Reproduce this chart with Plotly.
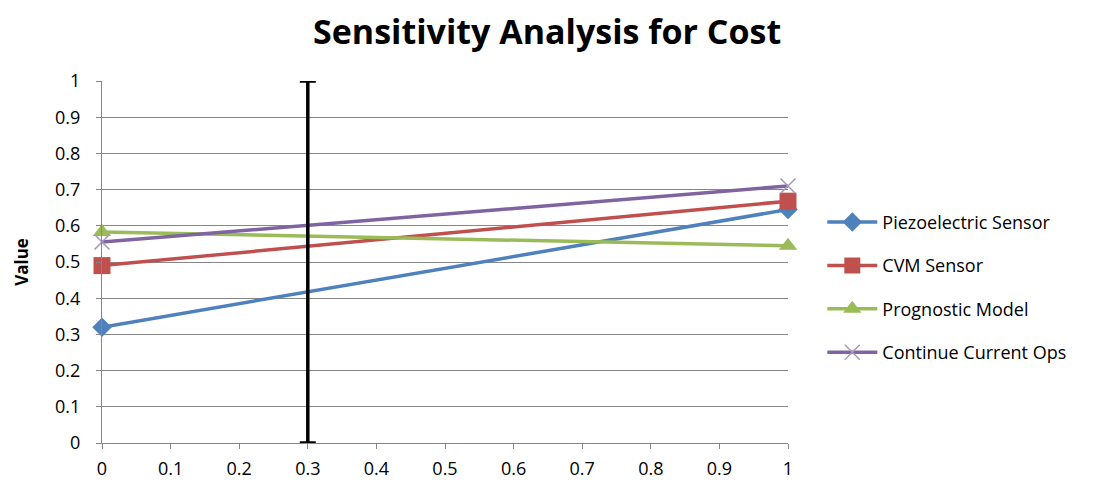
import plotly.graph_objects as go

x_vals = [0, 1]
series_names = ["Piezoelectric Sensor", "CVM Sensor", "Prognostic Model", "Continue Current Ops"]
piezo = [0.32, 0.645]
cvm = [0.49, 0.668]
prognostic = [0.583, 0.545]
continue_ops = [0.555, 0.71]
marker_line_x = 0.3
x_ticks = [0, 0.1, 0.2, 0.3, 0.4, 0.5, 0.6, 0.7, 0.8, 0.9, 1]
y_ticks = [0, 0.1, 0.2, 0.3, 0.4, 0.5, 0.6, 0.7, 0.8, 0.9, 1]
chart_title = "Sensitivity Analysis for Cost"

colors = ["#4F81BD", "#C0504D", "#9BBB59", "#8064A2"]
symbols = ["diamond", "square", "triangle-up", "x-thin"]
sizes = [15, 17, 16, 15]
data = [piezo, cvm, prognostic, continue_ops]

fig = go.Figure()
for i, (name, vals) in enumerate(zip(series_names, data)):
    fig.add_trace(go.Scatter(
        x=x_vals, y=vals, name=name, mode="lines+markers",
        line=dict(color=colors[i], width=3.5),
        marker=dict(symbol=symbols[i], size=sizes[i], color=colors[i],
                    line=dict(color="#A898BE" if i == 3 else colors[i], width=1.5 if i == 3 else 0)),
        legendgroup=name,
        cliponaxis=False,
    ))

# vertical marker at x=0.3 spanning 0..1 with end caps
fig.add_trace(go.Scatter(
    x=[marker_line_x], y=[0.5], mode="markers",
    marker=dict(size=1, color="black", opacity=0),
    error_y=dict(type="data", array=[0.5], arrayminus=[0.5], color="black", thickness=3.5, width=8),
    showlegend=False, hoverinfo="skip",
))

fig.add_annotation(
    text="<b>" + chart_title + "</b>", xref="paper", yref="paper",
    x=0.648, y=1.0, yshift=50, xanchor="center", yanchor="middle", showarrow=False,
    font=dict(family="Open Sans, Liberation Sans, Arial", size=34, color="black"),
)

fig.update_layout(
    width=1095, height=487,
    paper_bgcolor="white", plot_bgcolor="white",
    margin=dict(l=94, r=315, t=73, b=52, autoexpand=False),
    font=dict(family="Open Sans, Liberation Sans, Arial", size=18, color="black"),
    legend=dict(x=1.05, y=0.43, xanchor="left", yanchor="middle",
                font=dict(size=18, color="black"), tracegroupgap=17,
                itemwidth=50, bgcolor="rgba(0,0,0,0)"),
    xaxis=dict(range=[0, 1], tickvals=x_ticks, ticktext=[str(v) for v in x_ticks],
               showgrid=False, showline=True, linecolor="#868686", linewidth=1,
               ticks="outside", ticklen=5, tickcolor="#868686", zeroline=False,
               tickfont=dict(size=18), ticklabelstandoff=4),
    yaxis=dict(range=[0, 1], tickvals=y_ticks, ticktext=[str(v) for v in y_ticks],
               showgrid=True, gridcolor="#868686", gridwidth=1,
               showline=True, linecolor="#868686", linewidth=1,
               ticks="outside", ticklen=5, tickcolor="#868686", zeroline=False,
               tickfont=dict(size=18), ticklabelstandoff=12,
               title=dict(text="<b>Value</b>", font=dict(size=17), standoff=22)),
)

fig.write_html("out.html")
